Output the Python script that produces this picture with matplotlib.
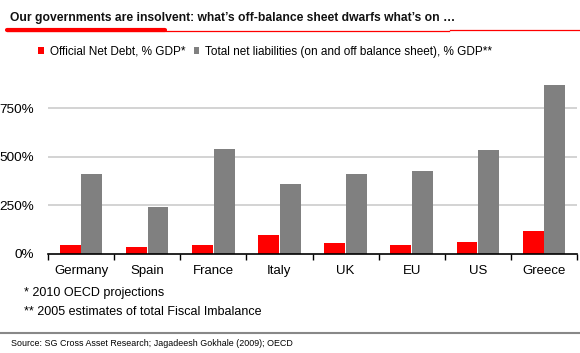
import numpy as np
import matplotlib

matplotlib.use("Agg")
import matplotlib.pyplot as plt
from matplotlib.lines import Line2D
from matplotlib.patches import Patch

COUNTRIES = ["Germany", "Spain", "France", "Italy", "UK", "EU", "US", "Greece"]
NET_DEBT = [48, 38, 48, 100, 57, 48, 62, 118]
TOTAL_LIAB = [410, 242, 543, 359, 410, 426, 534, 871]
Y_TICKS = [0, 250, 500, 750]
Y_LABELS = ["0%", "250%", "500%", "750%"]

RED = "#ff0000"
GREY = "#808080"

plt.rcParams["font.family"] = ["Liberation Sans", "DejaVu Sans"]

W, H = 580, 353
fig = plt.figure(figsize=(W / 100, H / 100), dpi=100)


def fx(px):
    return px / W


def fy(py):
    return 1 - py / H


# axes geometry in pixels
ax_left, ax_right = 48, 577
ax_bottom = 254
ymax = 900
px_per_unit = 145.7 / 750
ax_top = ax_bottom - ymax * px_per_unit
ax = fig.add_axes([fx(ax_left), fy(ax_bottom), fx(ax_right - ax_left), (ax_bottom - ax_top) / H])

x = np.arange(len(COUNTRIES))
bw = 0.315
ax.bar(x - bw / 2 - 0.006, NET_DEBT, width=bw, color=RED, zorder=3)
ax.bar(x + bw / 2 + 0.006, TOTAL_LIAB, width=bw, color=GREY, zorder=3)

ax.set_xlim(-0.5, len(COUNTRIES) - 0.5)
ax.set_ylim(0, ymax)
ax.set_yticks(Y_TICKS)
ax.set_yticklabels(Y_LABELS, fontsize=9.7)
ax.tick_params(axis="y", length=0, pad=10)
ax.set_xticks(x)
ax.set_xticklabels(COUNTRIES, fontsize=9.5)
ax.tick_params(axis="x", which="major", length=0, pad=8)
ax.set_xticks(np.arange(-0.5, len(COUNTRIES), 1.0), minor=True)
ax.tick_params(axis="x", which="minor", length=4, width=1, direction="out", color="black")
for t in Y_TICKS[1:]:
    ax.axhline(t, color="#cccccc", linewidth=1.2, zorder=1)
for s in ["top", "right", "left"]:
    ax.spines[s].set_visible(False)
ax.spines["bottom"].set_linewidth(1.2)
ax.spines["bottom"].set_zorder(4)

# legend
handles = [
    Patch(facecolor=RED, edgecolor="none", label="Official Net Debt, % GDP*"),
    Patch(facecolor=GREY, edgecolor="none", label="Total net liabilities (on and off balance sheet), % GDP**"),
]
fig.legend(
    handles=handles,
    loc="center left",
    bbox_to_anchor=(fx(38), fy(52)),
    ncol=2,
    frameon=False,
    fontsize=8.5,
    handlelength=0.5,
    handleheight=0.5,
    handletextpad=0.5,
    columnspacing=0.7,
    borderpad=0,
    borderaxespad=0,
)

# title with red underline
fig.text(fx(10), fy(18), "Our governments are insolvent: what\u2019s off-balance sheet dwarfs what\u2019s on \u2026",
         fontsize=8.7, fontweight="bold", ha="left", va="center", color="#111111")
fig.add_artist(Line2D([fx(7), fx(449)], [fy(31), fy(31)], color=RED, linewidth=0.9))
fig.add_artist(Line2D([fx(450), fx(580)], [fy(29.5), fy(29.5)], color=RED, linewidth=0.9))
fig.add_artist(Line2D([fx(7), fx(165)], [fy(30), fy(30)], color=RED, linewidth=3, solid_capstyle="round"))

# footnotes
fig.text(fx(24), fy(293), "* 2010 OECD projections", fontsize=9.0, ha="left", va="center")
fig.text(fx(24), fy(312), "** 2005 estimates of total Fiscal Imbalance", fontsize=9.0, ha="left", va="center")
fig.add_artist(Line2D([0, 1], [fy(333), fy(333)], color="#888888", linewidth=1.5))
fig.text(fx(11), fy(343), "Source: SG Cross Asset Research; Jagadeesh Gokhale (2009); OECD",
         fontsize=6.4, ha="left", va="center")

fig.savefig("out.png", dpi=100)
